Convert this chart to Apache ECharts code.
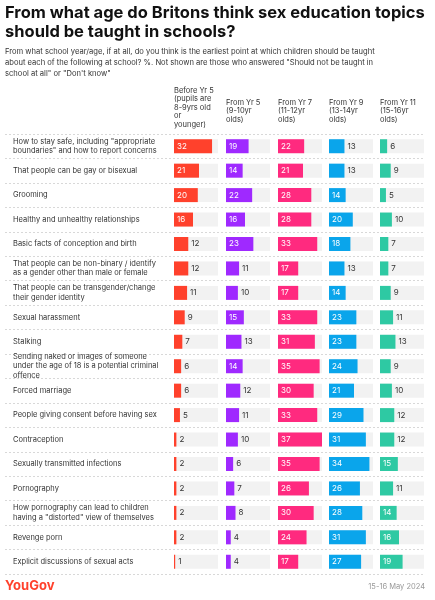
<!DOCTYPE html>
<html><head><meta charset="utf-8">
<script src="https://cdn.jsdelivr.net/npm/echarts@6/dist/echarts.min.js"></script>
<style>body{margin:0;background:#fff}#c{width:435px;height:600px}</style>
</head><body><div id="c"></div>
<script>
var topics = [
  'How to stay safe, including "appropriate\nboundaries" and how to report concerns',
  'That people can be gay or bisexual',
  'Grooming',
  'Healthy and unhealthy relationships',
  'Basic facts of conception and birth',
  'That people can be non-binary / identify\nas a gender other than male or female',
  'That people can be transgender/change\ntheir gender identity',
  'Sexual harassment',
  'Stalking',
  'Sending naked or images of someone\nunder the age of 18 is a potential criminal\noffence',
  'Forced marriage',
  'People giving consent before having sex',
  'Contraception',
  'Sexually transmitted infections',
  'Pornography',
  'How pornography can lead to children\nhaving a "distorted" view of themselves',
  'Revenge porn',
  'Explicit discussions of sexual acts'
];
var beforeYr5 = [32, 21, 20, 16, 12, 12, 11, 9, 7, 6, 6, 5, 2, 2, 2, 2, 2, 1];
var fromYr5 = [19, 14, 22, 16, 23, 11, 10, 15, 13, 14, 12, 11, 10, 6, 7, 8, 4, 4];
var fromYr7 = [22, 21, 28, 28, 33, 17, 17, 33, 31, 35, 30, 33, 37, 35, 26, 30, 24, 17];
var fromYr9 = [13, 13, 14, 20, 18, 13, 14, 23, 23, 24, 21, 29, 31, 34, 26, 28, 31, 27];
var fromYr11 = [6, 9, 5, 10, 7, 7, 9, 11, 13, 9, 10, 12, 12, 15, 11, 14, 16, 19];
var headers = ['Before Yr 5\n(pupils are\n8-9yrs old\nor\nyounger)', 'From Yr 5\n(9-10yr\nolds)', 'From Yr 7\n(11-12yr\nolds)', 'From Yr 9\n(13-14yr\nolds)', 'From Yr 11\n(15-16yr\nolds)'];

var cols = [beforeYr5, fromYr5, fromYr7, fromYr9, fromYr11];
var colors = ['#ff412c', '#9f29ff', '#ff2a7f', '#0aa5eb', '#2ec9a3'];
var colX = [174, 226, 278, 329, 380];
var gridTop = 134, gridHeight = 440;
var font = 'Inter, "Noto Sans", sans-serif';

var grids = [{left: 5, width: 420, top: gridTop, height: gridHeight}];
var xAxes = [{gridIndex: 0, show: false, min: 0, max: 1}];
var yAxes = [{gridIndex: 0, type: 'category', data: topics, inverse: true,
  axisLine: {show: false}, axisTick: {show: false},
  splitLine: {show: true, interval: 0, lineStyle: {type: [2, 2], color: '#d8d8d8'}},
  axisLabel: {inside: true, color: '#333', fontSize: 7.5, lineHeight: 9.5, fontFamily: font}}];
var series = [];
cols.forEach(function (vals, i) {
  grids.push({left: colX[i], width: 44, top: gridTop, height: gridHeight});
  xAxes.push({gridIndex: i + 1, type: 'value', min: 0, max: 37, show: false});
  yAxes.push({gridIndex: i + 1, type: 'category', data: topics, inverse: true, show: false});
  series.push({
    type: 'bar', xAxisIndex: i + 1, yAxisIndex: i + 1, barWidth: 14,
    showBackground: true, backgroundStyle: {color: '#f2f2f2'},
    itemStyle: {color: colors[i]},
    data: vals.map(function (v) {
      var inside = v >= 14;
      return {value: v, label: {show: true, position: inside ? 'insideLeft' : 'right',
        color: inside ? '#fff' : '#333', fontSize: 8, distance: 3, fontFamily: font}};
    })
  });
});

var graphics = [
  {type: 'text', left: 5, top: 4, style: {text: 'From what age do Britons think sex education topics\nshould be taught in schools?', font: 'bold 16.5px ' + font, fill: '#111', lineHeight: 19}},
  {type: 'text', left: 5, top: 46, style: {text: 'From what school year/age, if at all, do you think is the earliest point at which children should be taught\nabout each of the following at school? %. Not shown are those who answered "Should not be taught in\nschool at all" or "Don\'t know"', font: '7.6px ' + font, fill: '#333', lineHeight: 11}},
  {type: 'text', left: 5, top: 580, style: {text: 'YouGov', font: 'bold 13px ' + font, fill: '#ff412c'}},
  {type: 'text', right: 10, top: 583, style: {text: '15-16 May 2024', font: '7.5px ' + font, fill: '#999'}}
];
headers.forEach(function (h, i) {
  graphics.push({type: 'text', left: colX[i], top: i === 0 ? 86 : 98, style: {text: h, font: '7.5px ' + font, fill: '#333', lineHeight: 8.5}});
});

var chart = echarts.init(document.getElementById('c'));
chart.setOption({
  animation: false,
  grid: grids, xAxis: xAxes, yAxis: yAxes, series: series, graphic: graphics
});
</script></body></html>
